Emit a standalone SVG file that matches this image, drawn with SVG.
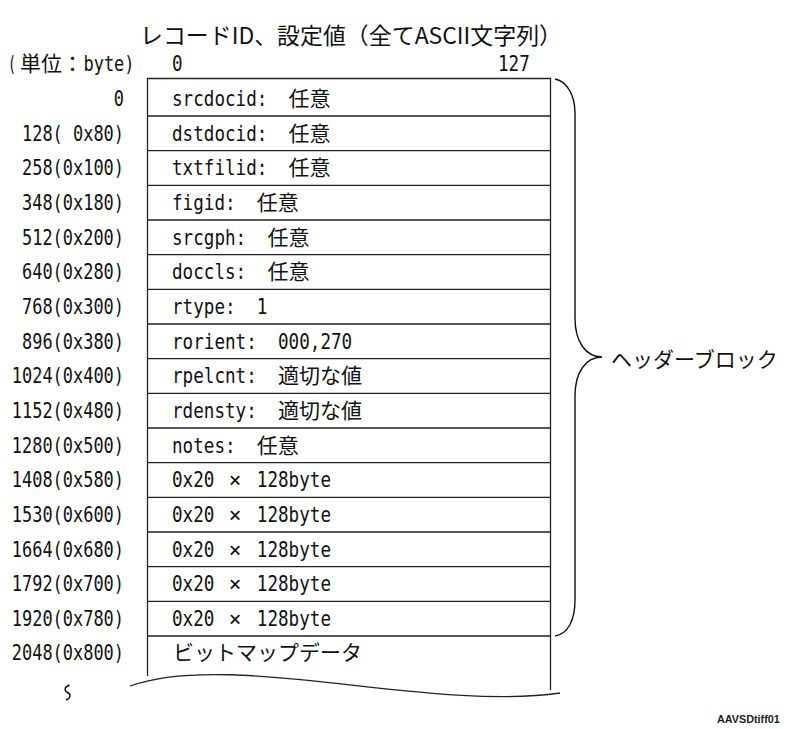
<svg xmlns="http://www.w3.org/2000/svg" width="785" height="729" viewBox="0 0 785 729">
<style>
.m{font-family:"DejaVu Sans Mono","Liberation Mono",monospace;font-size:21px;fill:#111}
.j{font-family:"Noto Sans CJK JP","Noto Sans CJK SC",sans-serif;font-size:21px;fill:#111}
.t{font-family:"Noto Sans CJK JP","Noto Sans CJK SC",sans-serif;font-size:22.8px;fill:#111}
.ln{stroke:#222;stroke-width:1.3;fill:none}
.br{stroke:#111;stroke-width:1.4;fill:none}
.s{font-family:"Liberation Sans",Arial,sans-serif;font-size:10.8px;fill:#222}
</style>
<rect width="785" height="729" fill="#fff"/>
<g id="title">
<text class="t" x="140" y="44" textLength="422" lengthAdjust="spacingAndGlyphs">レコードID、設定値（全てASCII文字列）</text>
</g>
<g id="header">
<text class="m" x="8" y="71" textLength="8" lengthAdjust="spacingAndGlyphs">(</text>
<text class="j" x="20" y="71">単位：</text>
<text class="m" x="83.5" y="71" textLength="51" lengthAdjust="spacingAndGlyphs">byte)</text>
<text class="m" x="172" y="71" textLength="10.6" lengthAdjust="spacingAndGlyphs">0</text>
<text class="m" x="498" y="71" textLength="31.8" lengthAdjust="spacingAndGlyphs">127</text>
</g>
<g id="offsets">
<text class="m" x="113.8" y="106" textLength="10.2" lengthAdjust="spacingAndGlyphs">0</text>
<text class="m" x="22" y="140.7" textLength="102" lengthAdjust="spacingAndGlyphs">128( 0x80)</text>
<text class="m" x="22" y="175.3" textLength="102" lengthAdjust="spacingAndGlyphs">258(0x100)</text>
<text class="m" x="22" y="210" textLength="102" lengthAdjust="spacingAndGlyphs">348(0x180)</text>
<text class="m" x="22" y="244.7" textLength="102" lengthAdjust="spacingAndGlyphs">512(0x200)</text>
<text class="m" x="22" y="279.3" textLength="102" lengthAdjust="spacingAndGlyphs">640(0x280)</text>
<text class="m" x="22" y="314" textLength="102" lengthAdjust="spacingAndGlyphs">768(0x300)</text>
<text class="m" x="22" y="348.7" textLength="102" lengthAdjust="spacingAndGlyphs">896(0x380)</text>
<text class="m" x="11.8" y="383.3" textLength="112.2" lengthAdjust="spacingAndGlyphs">1024(0x400)</text>
<text class="m" x="11.8" y="418" textLength="112.2" lengthAdjust="spacingAndGlyphs">1152(0x480)</text>
<text class="m" x="11.8" y="452.7" textLength="112.2" lengthAdjust="spacingAndGlyphs">1280(0x500)</text>
<text class="m" x="11.8" y="487.3" textLength="112.2" lengthAdjust="spacingAndGlyphs">1408(0x580)</text>
<text class="m" x="11.8" y="522" textLength="112.2" lengthAdjust="spacingAndGlyphs">1530(0x600)</text>
<text class="m" x="11.8" y="556.7" textLength="112.2" lengthAdjust="spacingAndGlyphs">1664(0x680)</text>
<text class="m" x="11.8" y="591.3" textLength="112.2" lengthAdjust="spacingAndGlyphs">1792(0x700)</text>
<text class="m" x="11.8" y="626" textLength="112.2" lengthAdjust="spacingAndGlyphs">1920(0x780)</text>
<text class="m" x="11.8" y="660" textLength="112.2" lengthAdjust="spacingAndGlyphs">2048(0x800)</text>
</g>
<g id="record-frame">
<path class="ln" d="M147.5,78 V676 M550.5,78 V690 M147,78.5 H551"/>
<path class="ln" d="M147,116 H551 M147,150.7 H551 M147,185.3 H551 M147,220 H551 M147,254.7 H551 M147,289.3 H551 M147,324 H551 M147,358.7 H551 M147,393.3 H551 M147,428 H551 M147,462.7 H551 M147,497.3 H551 M147,532 H551 M147,566.7 H551 M147,601.3 H551 M147,636 H551"/>
<path class="ln" d="M130,686 C230,650 430,712 560,693"/>
<path class="br" stroke-width="2" d="M69.5,685 C64,687 64,691 67.5,692.5 C71,694 71,698 66,700"/>
</g>
<g id="row-srcdocid"><text class="m" x="172" y="106" textLength="95.4" lengthAdjust="spacingAndGlyphs">srcdocid:</text><text class="j" x="288.6" y="106">任意</text></g>
<g id="row-dstdocid"><text class="m" x="172" y="140.7" textLength="95.4" lengthAdjust="spacingAndGlyphs">dstdocid:</text><text class="j" x="288.6" y="140.7">任意</text></g>
<g id="row-txtfilid"><text class="m" x="172" y="175.3" textLength="95.4" lengthAdjust="spacingAndGlyphs">txtfilid:</text><text class="j" x="288.6" y="175.3">任意</text></g>
<g id="row-figid"><text class="m" x="172" y="210" textLength="63.6" lengthAdjust="spacingAndGlyphs">figid:</text><text class="j" x="256.8" y="210">任意</text></g>
<g id="row-srcgph"><text class="m" x="172" y="244.7" textLength="74.2" lengthAdjust="spacingAndGlyphs">srcgph:</text><text class="j" x="267.4" y="244.7">任意</text></g>
<g id="row-doccls"><text class="m" x="172" y="279.3" textLength="74.2" lengthAdjust="spacingAndGlyphs">doccls:</text><text class="j" x="267.4" y="279.3">任意</text></g>
<g id="row-rtype"><text class="m" x="172" y="314" textLength="63.6" lengthAdjust="spacingAndGlyphs">rtype:</text><text class="m" x="256.8" y="314" textLength="10.6" lengthAdjust="spacingAndGlyphs">1</text></g>
<g id="row-rorient"><text class="m" x="172" y="348.7" textLength="84.8" lengthAdjust="spacingAndGlyphs">rorient:</text><text class="m" x="278" y="348.7" textLength="74.2" lengthAdjust="spacingAndGlyphs">000,270</text></g>
<g id="row-rpelcnt"><text class="m" x="172" y="383.3" textLength="84.8" lengthAdjust="spacingAndGlyphs">rpelcnt:</text><text class="j" x="278" y="383.3">適切な値</text></g>
<g id="row-rdensty"><text class="m" x="172" y="418" textLength="84.8" lengthAdjust="spacingAndGlyphs">rdensty:</text><text class="j" x="278" y="418">適切な値</text></g>
<g id="row-notes"><text class="m" x="172" y="452.7" textLength="63.6" lengthAdjust="spacingAndGlyphs">notes:</text><text class="j" x="256.8" y="452.7">任意</text></g>
<g id="row-pad1"><text class="m" x="172" y="487.3" textLength="42.4" lengthAdjust="spacingAndGlyphs">0x20</text><text class="m" x="235" y="487.3" text-anchor="middle">×</text><text class="m" x="256.8" y="487.3" textLength="74.2" lengthAdjust="spacingAndGlyphs">128byte</text></g>
<g id="row-pad2"><text class="m" x="172" y="522" textLength="42.4" lengthAdjust="spacingAndGlyphs">0x20</text><text class="m" x="235" y="522" text-anchor="middle">×</text><text class="m" x="256.8" y="522" textLength="74.2" lengthAdjust="spacingAndGlyphs">128byte</text></g>
<g id="row-pad3"><text class="m" x="172" y="556.7" textLength="42.4" lengthAdjust="spacingAndGlyphs">0x20</text><text class="m" x="235" y="556.7" text-anchor="middle">×</text><text class="m" x="256.8" y="556.7" textLength="74.2" lengthAdjust="spacingAndGlyphs">128byte</text></g>
<g id="row-pad4"><text class="m" x="172" y="591.3" textLength="42.4" lengthAdjust="spacingAndGlyphs">0x20</text><text class="m" x="235" y="591.3" text-anchor="middle">×</text><text class="m" x="256.8" y="591.3" textLength="74.2" lengthAdjust="spacingAndGlyphs">128byte</text></g>
<g id="row-pad5"><text class="m" x="172" y="626" textLength="42.4" lengthAdjust="spacingAndGlyphs">0x20</text><text class="m" x="235" y="626" text-anchor="middle">×</text><text class="m" x="256.8" y="626" textLength="74.2" lengthAdjust="spacingAndGlyphs">128byte</text></g>
<g id="row-bitmap"><text class="j" x="173" y="660">ビットマップデータ</text></g>
<g id="connectors">
<path class="br" d="M555,79 C566,81 575,94 575,113 L575,318 C575,342 586,357 602,357 C586,357 575,372 575,396 L575,600 C575,620 568,634 555,636"/>
</g>
<g id="header-block-label"><text class="j" x="611" y="367">ヘッダーブロック</text></g>
<text class="s" x="717" y="723" font-weight="bold">AAVSDtiff01</text>
</svg>
